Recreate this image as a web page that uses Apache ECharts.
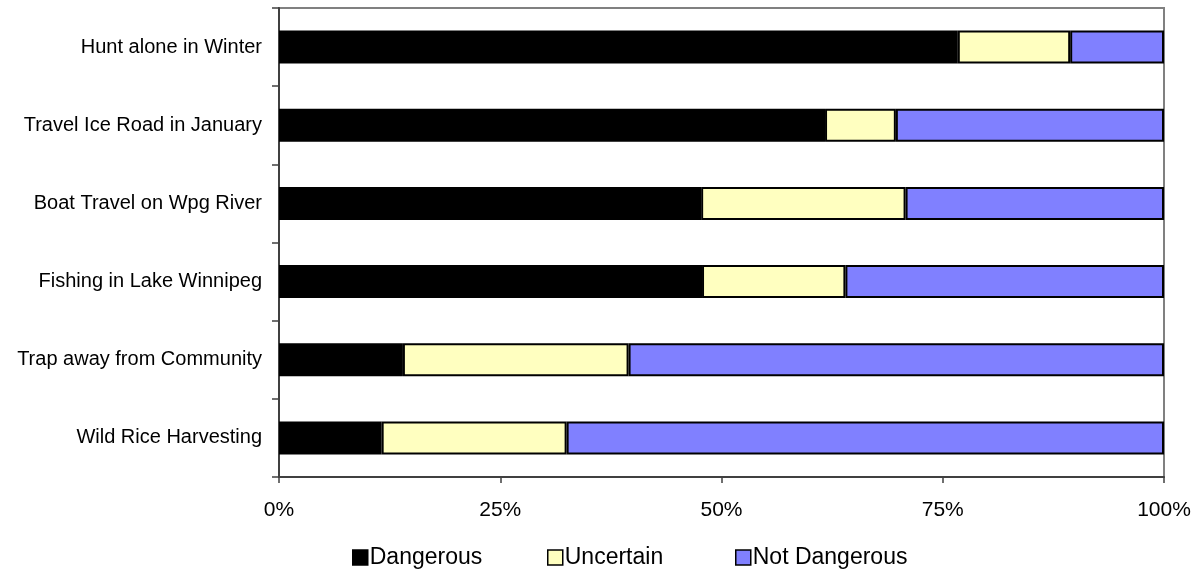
<!DOCTYPE html>
<html>
<head>
<meta charset="utf-8">
<script src="https://cdn.jsdelivr.net/npm/echarts@6/dist/echarts.min.js"></script>
<style>
  html, body { margin: 0; padding: 0; background: #fff; }
  #chart { width: 1200px; height: 573px; }
</style>
</head>
<body>
<div id="chart"></div>
<script>
// Activities, listed top to bottom
const activities = [
  'Hunt alone in Winter',
  'Travel Ice Road in January',
  'Boat Travel on Wpg River',
  'Fishing in Lake Winnipeg',
  'Trap away from Community',
  'Wild Rice Harvesting'
];

// Share of respondents (%) per rating
const dangerous    = [76.7, 61.7, 47.7, 47.8, 14.0, 11.6];
const uncertain    = [12.7,  8.0, 23.1, 16.2, 25.5, 20.9];
const notDangerous = [10.6, 30.3, 29.2, 36.0, 60.5, 67.5];

const percentTicks = [0, 25, 50, 75, 100];

const FONT = '"Liberation Sans", Arial, sans-serif';

const seriesDefs = [
  { name: 'Dangerous',     data: dangerous,    color: '#000000' },
  { name: 'Uncertain',     data: uncertain,    color: '#ffffc0' },
  { name: 'Not Dangerous', data: notDangerous, color: '#8080ff' }
];

const legendLeft = [352, 547, 735];

const chart = echarts.init(document.getElementById('chart'), null, { renderer: 'canvas' });

chart.setOption({
  animation: false,
  backgroundColor: '#ffffff',
  textStyle: { fontFamily: FONT },
  grid: {
    left: 279, right: 36, top: 8, bottom: 96,
    show: true, borderColor: '#808080', borderWidth: 2, backgroundColor: 'transparent'
  },
  legend: seriesDefs.map((s, i) => ({
    data: [s.name],
    left: legendLeft[i],
    top: 546,
    padding: 0,
    itemWidth: 15,
    itemHeight: 15,
    icon: 'rect',
    itemStyle: { borderColor: '#000', borderWidth: 1.5 },
    textStyle: { fontFamily: FONT, fontSize: 23, color: '#000', padding: [0, 0, 0, -3] }
  })),
  xAxis: {
    type: 'value',
    min: 0, max: 100, interval: 25,
    axisLine: { show: true, lineStyle: { color: '#404040', width: 2 } },
    axisTick: { show: true, length: 6, lineStyle: { color: '#404040', width: 1.5 } },
    splitLine: { show: false },
    axisLabel: {
      margin: 23,
      color: '#000', fontSize: 21, fontFamily: FONT,
      formatter: v => (percentTicks.includes(v) ? v + '%' : '')
    }
  },
  yAxis: {
    type: 'category',
    inverse: true,
    data: activities,
    axisLine: { show: true, lineStyle: { color: '#404040', width: 2 } },
    axisTick: { show: true, length: 7, lineStyle: { color: '#404040', width: 1.5 } },
    axisLabel: { margin: 17, color: '#000', fontSize: 20, fontFamily: FONT }
  },
  series: seriesDefs.map(s => ({
    name: s.name,
    type: 'bar',
    stack: 'total',
    data: s.data,
    barWidth: 33,
    itemStyle: { color: s.color, borderColor: '#000', borderWidth: 2 }
  }))
});
</script>
</body>
</html>
